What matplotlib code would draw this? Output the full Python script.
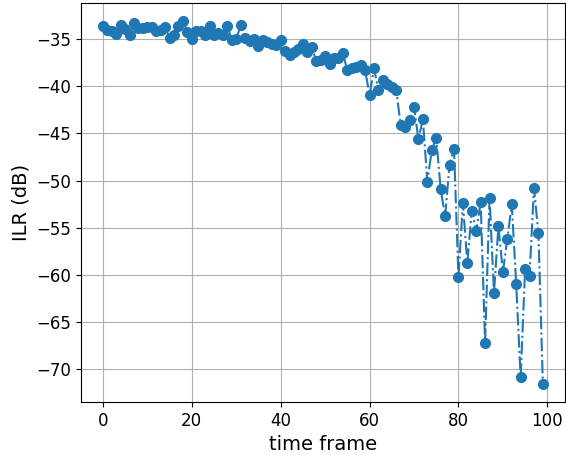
import matplotlib
matplotlib.use("Agg")
import matplotlib.pyplot as plt

# ILR per time frame (dB)
frames = list(range(100))
ilr = [-33.6, -34.0, -34.1, -34.4, -33.5, -33.9, -34.6, -33.3, -33.8, -33.8,
       -33.7, -33.7, -34.1, -34.0, -33.7, -34.9, -34.6, -33.6, -33.1, -34.2,
       -35.0, -34.1, -34.1, -34.5, -33.6, -34.5, -34.3, -34.5, -33.6, -35.1,
       -35.0, -33.5, -34.9, -35.2, -35.0, -35.7, -35.1, -35.3, -35.5, -35.6,
       -35.1, -36.2, -36.7, -36.4, -36.0, -35.5, -36.4, -35.8, -37.3, -37.2,
       -36.8, -37.6, -37.0, -37.0, -36.5, -38.3, -38.1, -38.0, -37.7, -38.3,
       -40.9, -38.1, -40.4, -39.3, -39.7, -40.1, -40.4, -44.1, -44.3, -43.6,
       -42.2, -45.6, -43.5, -50.1, -46.8, -45.5, -50.9, -53.8, -48.3, -46.6,
       -60.2, -52.4, -58.7, -53.2, -55.4, -52.3, -67.2, -51.8, -61.9, -54.8,
       -59.7, -56.2, -52.5, -61.0, -70.9, -59.4, -60.1, -50.8, -55.6, -71.6]

fig, ax = plt.subplots(figsize=(5.66, 4.55), dpi=100)
ax.plot(frames, ilr, "o-.", color="tab:blue", markersize=7, linewidth=1.5)

ax.set_xlabel("time frame", fontsize=14)
ax.set_ylabel("ILR (dB)", fontsize=14)
ax.tick_params(labelsize=12)
ax.grid(True)

plt.subplots_adjust(left=0.143, right=0.998, top=0.993, bottom=0.116)
plt.savefig("out.png")
